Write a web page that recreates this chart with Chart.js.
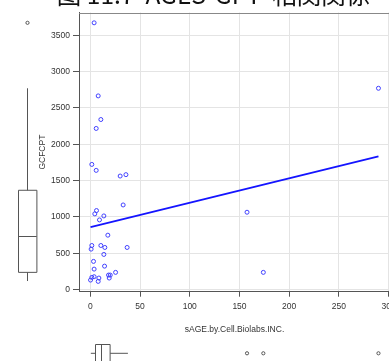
<!DOCTYPE html>
<html>
<head>
<meta charset="utf-8">
<script src="https://cdn.jsdelivr.net/npm/chart.js@4.4.1/dist/chart.umd.min.js"></script>
<style>
  html, body { margin: 0; padding: 0; background: #fff; overflow: hidden; width: 389px; height: 361px; }
  #lienzo { position: absolute; left: 0; top: -25px; width: 428px; height: 400px; }
</style>
</head>
<body>
<div id="lienzo"><canvas id="grafico-dispersion"></canvas></div>
<script>
/* sAGE (Cell Biolabs) vs GCF CPT — dispersión con recta de ajuste y boxplots marginales */

// valores por muestra
const sageX = [3.8, 7.9, 10.6, 5.9, 1.5, 5.9, 30, 35.8, 33, 6.2, 4.5, 13.6, 9.2, 17.6, 1.5, 0.8, 10.6, 14.6,
               37, 13.6, 3.2, 14.3, 3.8, 25.4, 18.3, 20, 19, 1.5, 3.8, 8.6, 0.2, 7.9, 157.6, 174, 289.8];
const cptY  = [3671, 2665, 2340, 2217, 1722, 1640, 1562, 1581, 1164, 1087, 1041, 1013, 958, 748, 606, 556, 606, 579,
               579, 483, 387, 322, 281, 236, 199, 199, 158, 167, 176, 158, 130, 112, 1064, 236, 2770];

// recta de regresión (extremos)
const fitX = [0.2, 289.8];
const fitY = [858, 1832];

// resumen de cinco números + atípicos de cada eje
const boxY  = [117, 236, 733, 1366, 2770];
const outY  = [3671];
const boxX  = [0.5, 5.2, 10.3, 19.9, 37.8];
const outX  = [157.6, 174, 289.8];

// ejes
const xTicks = [0, 50, 100, 150, 200, 250, 300];
const yTicks = [0, 500, 1000, 1500, 2000, 2500, 3000, 3500];
const xRange = [-11.4, 301.4];
const yRange = [-30, 3813];

const FUENTE = "'Liberation Sans', Arial, sans-serif";

// marco del panel y boxplots en los márgenes
const margenes = {
  id: 'margenes',
  afterDraw(chart) {
    const { ctx, chartArea: a, scales: { x, y } } = chart;
    ctx.save();

    ctx.strokeStyle = '#888';
    ctx.lineWidth = 1;
    ctx.beginPath();
    ctx.moveTo(a.left, Math.round(a.top) + 0.5);
    ctx.lineTo(a.right, Math.round(a.top) + 0.5);
    ctx.moveTo(Math.round(a.right) - 0.5, a.top);
    ctx.lineTo(Math.round(a.right) - 0.5, a.bottom);
    ctx.stroke();

    ctx.strokeStyle = '#555';

    // boxplot vertical (GCFCPT)
    const cx = 27.5, hw = 9.2;
    const [w0, q1, md, q3, w1] = boxY.map(v => y.getPixelForValue(v));
    ctx.beginPath();
    ctx.rect(Math.round(cx - hw) + 0.5, q3, 2 * hw, q1 - q3);
    ctx.moveTo(cx - hw, Math.round(md) + 0.5); ctx.lineTo(cx + hw, Math.round(md) + 0.5);
    ctx.moveTo(cx, w1); ctx.lineTo(cx, q3);
    ctx.moveTo(cx, q1); ctx.lineTo(cx, w0);
    ctx.stroke();
    outY.forEach(v => {
      ctx.beginPath();
      ctx.arc(cx, y.getPixelForValue(v), 1.6, 0, Math.PI * 2);
      ctx.stroke();
    });

    // boxplot horizontal (sAGE)
    const cy = 378.3, hh = 9;
    const [v0, p1, pm, p3, v1] = boxX.map(v => x.getPixelForValue(v));
    ctx.beginPath();
    ctx.rect(p1, Math.round(cy - hh) + 0.5, p3 - p1, 2 * hh);
    ctx.moveTo(Math.round(pm) + 0.5, cy - hh); ctx.lineTo(Math.round(pm) + 0.5, cy + hh);
    ctx.moveTo(v0, cy); ctx.lineTo(p1, cy);
    ctx.moveTo(p3, cy); ctx.lineTo(v1, cy);
    ctx.stroke();
    outX.forEach(v => {
      ctx.beginPath();
      ctx.arc(x.getPixelForValue(v), cy, 1.6, 0, Math.PI * 2);
      ctx.stroke();
    });

    ctx.restore();
  }
};

const ejeComun = {
  type: 'linear',
  grid: { color: '#e4e4e4', tickColor: '#555', drawTicks: true },
  border: { display: true, color: '#555', width: 1 },
};

new Chart(document.getElementById('grafico-dispersion'), {
  data: {
    datasets: [
      {
        type: 'scatter',
        data: sageX.map((v, i) => ({ x: v, y: cptY[i] })),
        pointStyle: 'circle',
        pointRadius: 2,
        pointBorderWidth: 1,
        backgroundColor: 'rgba(0,0,0,0)',
        borderColor: '#4040ff',
      },
      {
        type: 'line',
        data: fitX.map((v, i) => ({ x: v, y: fitY[i] })),
        borderColor: '#1414ff',
        borderWidth: 1.8,
        pointRadius: 0,
        fill: false,
      },
    ]
  },
  options: {
    responsive: true,
    maintainAspectRatio: false,
    animation: false,
    // el relleno izquierdo centra el título; el eje Y ocupa el resto hasta x=79
    layout: { padding: { left: 37, right: 38, top: 0, bottom: 38.3 } },
    plugins: {
      legend: { display: false },
      tooltip: { enabled: false },
      title: {
        display: true,
        text: '图 11.7  AGES-GPT  相関関係',
        color: '#111',
        font: { family: "'Noto Sans CJK SC', 'Noto Sans CJK JP', sans-serif", size: 24.5, weight: 'normal', lineHeight: 1 },
        padding: { top: 7.5, bottom: 5.5 },
      },
    },
    scales: {
      x: {
        ...ejeComun,
        position: 'bottom',
        min: xRange[0],
        max: xRange[1],
        afterBuildTicks: s => { s.ticks = xTicks.map(v => ({ value: v })); },
        afterFit: s => { s.height = 45; },
        grid: { ...ejeComun.grid, tickLength: 5 },
        ticks: { color: '#333', font: { family: FUENTE, size: 8.5 }, padding: 5, maxRotation: 0, autoSkip: false,
                 callback: v => String(v) },
        title: { display: true, text: 'sAGE.by.Cell.Biolabs.INC.', color: '#333',
                 font: { family: FUENTE, size: 8.5, lineHeight: 1.2 }, padding: { top: 0, bottom: 2.4 } },
      },
      y: {
        ...ejeComun,
        position: 'left',
        min: yRange[0],
        max: yRange[1],
        afterBuildTicks: s => { s.ticks = yTicks.map(v => ({ value: v })); },
        afterFit: s => { s.width = 42; },
        grid: { ...ejeComun.grid, tickLength: 6 },
        ticks: { color: '#333', font: { family: FUENTE, size: 8.5 }, padding: 3, autoSkip: false,
                 callback: v => String(v) },
        title: { display: true, text: 'GCFCPT', color: '#333',
                 font: { family: FUENTE, size: 8.5, lineHeight: 1.2 }, padding: { top: 1, bottom: 0 } },
      },
    }
  },
  plugins: [margenes]
});
</script>
</body>
</html>
